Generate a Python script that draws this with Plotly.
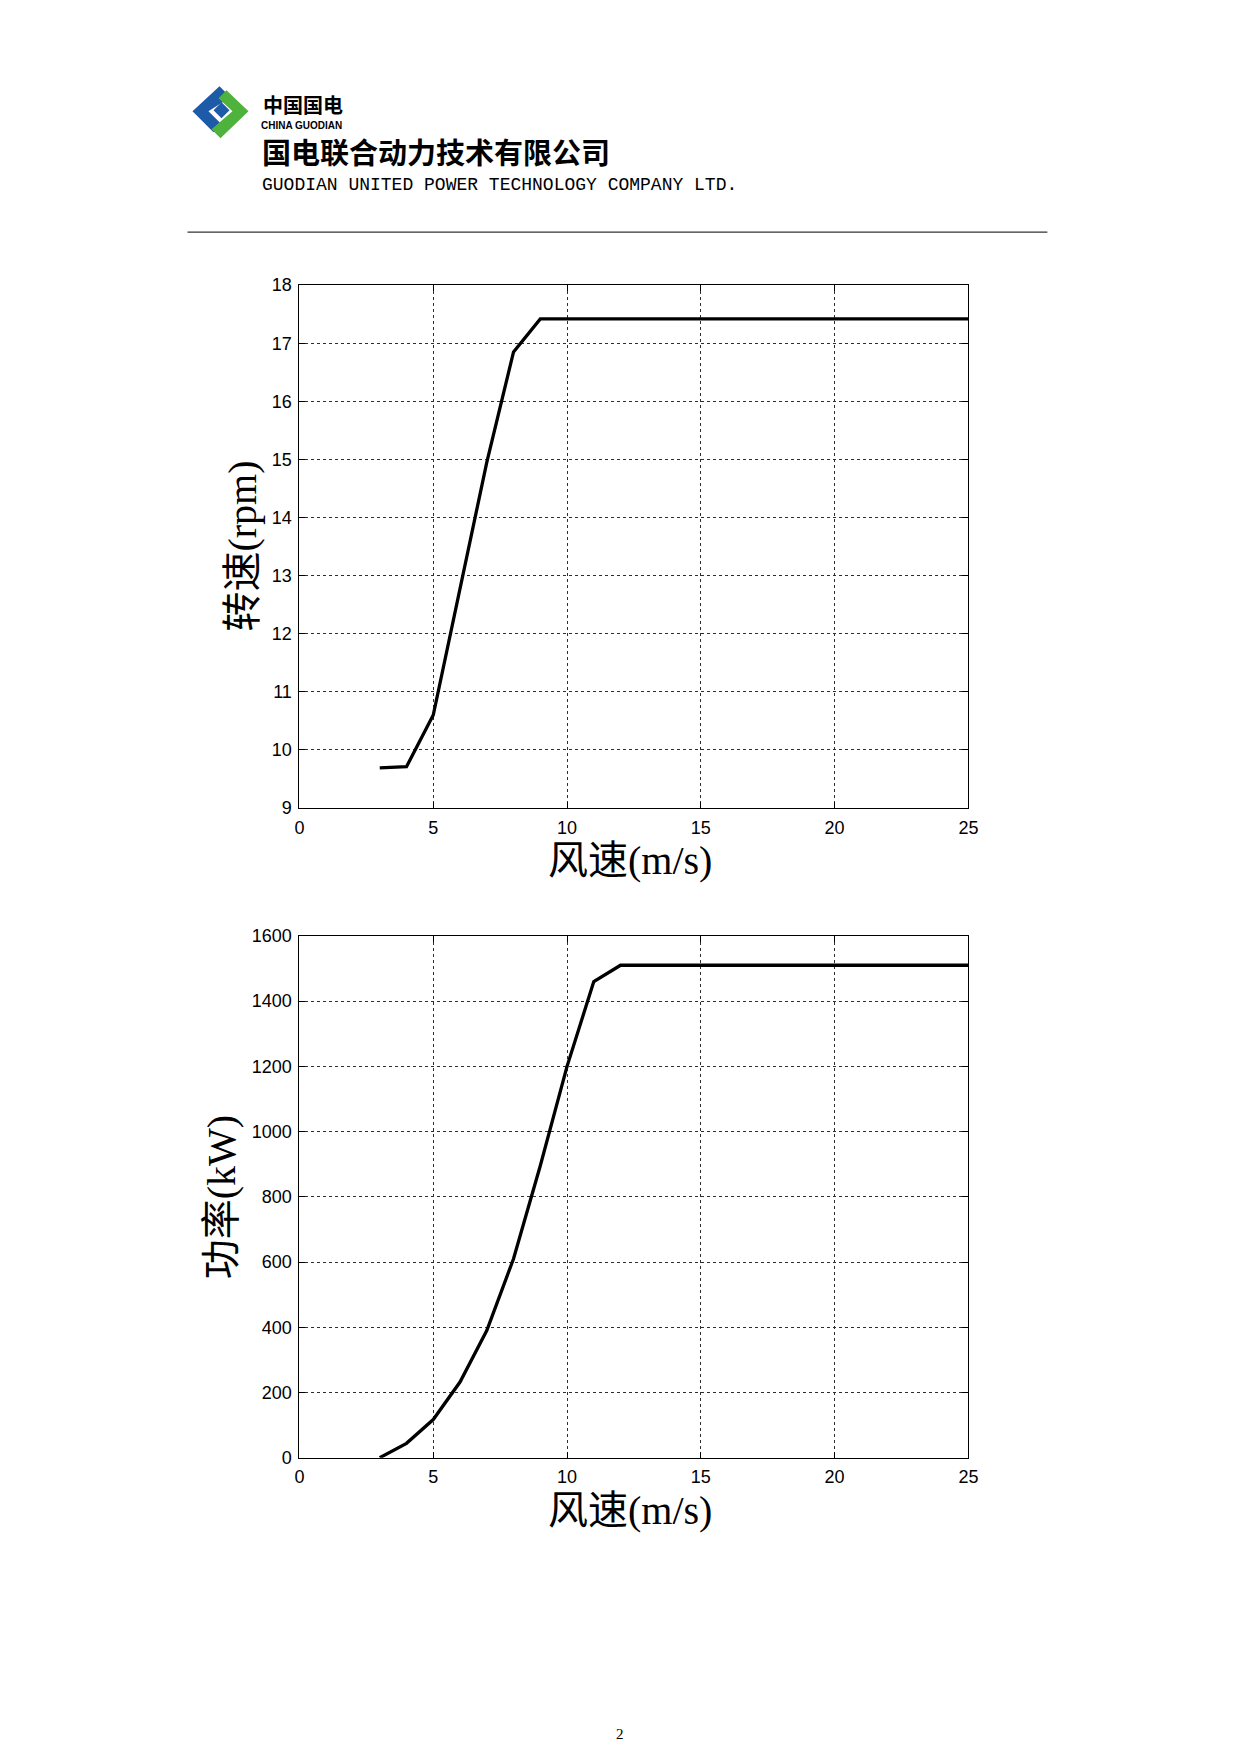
import plotly.graph_objects as go

# ---------------- data ----------------
wind_speed = [3, 4, 5, 6, 7, 8, 9, 10, 11, 12, 13, 14, 15, 16, 17, 18, 19, 20, 21, 22, 23, 24, 25]
rotor_speed_rpm = [9.69, 9.71, 10.60, 12.80, 14.95, 16.85, 17.42, 17.42, 17.42, 17.42, 17.42, 17.42,
                   17.42, 17.42, 17.42, 17.42, 17.42, 17.42, 17.42, 17.42, 17.42, 17.42, 17.42]
power_kw = [0, 44, 117, 232, 390, 610, 895, 1200, 1460, 1510, 1510, 1510,
            1510, 1510, 1510, 1510, 1510, 1510, 1510, 1510, 1510, 1510, 1510]

x_ticks = [0, 5, 10, 15, 20, 25]
rpm_ticks = [9, 10, 11, 12, 13, 14, 15, 16, 17, 18]
kw_ticks = [0, 200, 400, 600, 800, 1000, 1200, 1400, 1600]

x_title = "风速(m/s)"
rpm_title = "转速(rpm)"
kw_title = "功率(kW)"

company_cn_short = "中国国电"
company_en_short = "CHINA GUODIAN"
company_cn = "国电联合动力技术有限公司"
company_en = "GUODIAN UNITED POWER TECHNOLOGY COMPANY LTD."
page_no = "2"

# ---------------- page geometry ----------------
W, H = 1240, 1753
# measured page placement of the figure in the photograph
SX, SY, OX, OY = 0.988, 0.989, 5.5, 8.7


def px(x):
    return ((x - OX) / SX) / W


def py(y):
    return 1 - ((y - OY) / SY) / H


TICK_FONT = dict(family="Liberation Sans, Arial, sans-serif", size=18, color="black")
TITLE_FONT = dict(family="Liberation Serif, 'Noto Sans CJK SC', serif", size=40, color="black")

fig = go.Figure()

fig.add_trace(go.Scatter(x=wind_speed, y=rotor_speed_rpm, mode="lines",
                         line=dict(color="black", width=3.3), xaxis="x", yaxis="y",
                         showlegend=False, hoverinfo="skip"))
fig.add_trace(go.Scatter(x=wind_speed, y=power_kw, mode="lines",
                         line=dict(color="black", width=3.3), xaxis="x2", yaxis="y2",
                         showlegend=False, hoverinfo="skip"))

common_axis = dict(
    showline=True, linecolor="black", linewidth=1, mirror="ticks",
    ticks="inside", ticklen=6, tickcolor="black", tickwidth=1,
    showgrid=True, gridcolor="#2e2e2e", gridwidth=1, griddash="3px,3px",
    zeroline=False, tickfont=TICK_FONT, ticklabelstandoff=3,
)

x_dom = [px(300), px(969)]

fig.update_layout(
    width=W, height=H, autosize=False,
    margin=dict(l=0, r=0, t=0, b=0),
    paper_bgcolor="white", plot_bgcolor="white",
    xaxis=dict(domain=x_dom, range=[0, 25], tickvals=x_ticks, anchor="y", **common_axis),
    yaxis=dict(domain=[py(807), py(284)], range=[9, 18], tickvals=rpm_ticks, anchor="x", **common_axis),
    xaxis2=dict(domain=x_dom, range=[0, 25], tickvals=x_ticks, anchor="y2", **common_axis),
    yaxis2=dict(domain=[py(1457), py(935)], range=[0, 1600], tickvals=kw_ticks, anchor="x2", **common_axis),
)

ann = []
# axis titles
ann.append(dict(text=x_title, x=px(631), y=py(860), xref="paper", yref="paper",
                xanchor="center", yanchor="middle", showarrow=False, font=TITLE_FONT))
ann.append(dict(text=x_title, x=px(631), y=py(1510), xref="paper", yref="paper",
                xanchor="center", yanchor="middle", showarrow=False, font=TITLE_FONT))
ann.append(dict(text=rpm_title, x=px(243), y=py(545), xref="paper", yref="paper",
                xanchor="center", yanchor="middle", showarrow=False, font=TITLE_FONT, textangle=-90))
ann.append(dict(text=kw_title, x=px(222), y=py(1196), xref="paper", yref="paper",
                xanchor="center", yanchor="middle", showarrow=False, font=TITLE_FONT, textangle=-90))

# header texts
ann.append(dict(text="<b>%s</b>" % company_cn_short, x=px(262), y=py(103), xref="paper", yref="paper",
                xanchor="left", yanchor="middle", showarrow=False,
                font=dict(family="'Noto Sans CJK SC', sans-serif", size=20, color="black")))
ann.append(dict(text="<b>%s</b>" % company_en_short, x=px(260), y=py(124), xref="paper", yref="paper",
                xanchor="left", yanchor="middle", showarrow=False,
                font=dict(family="Liberation Sans Narrow, Liberation Sans, sans-serif", size=10, color="black")))
ann.append(dict(text="<b>%s</b>" % company_cn, x=px(261), y=py(150), xref="paper", yref="paper",
                xanchor="left", yanchor="middle", showarrow=False,
                font=dict(family="'Noto Sans CJK SC', sans-serif", size=29, color="black")))
ann.append(dict(text=company_en, x=px(261), y=py(184), xref="paper", yref="paper",
                xanchor="left", yanchor="middle", showarrow=False,
                font=dict(family="Liberation Mono, monospace", size=18, color="black")))
ann.append(dict(text=page_no, x=px(621), y=py(1733), xref="paper", yref="paper",
                xanchor="center", yanchor="middle", showarrow=False,
                font=dict(family="Liberation Serif, serif", size=15, color="black")))

fig.update_layout(annotations=ann)


def path_from(points):
    s = "M " + " L ".join("%f,%f" % (px(x), py(y)) for x, y in points) + " Z"
    return s


shapes = []
# header rule
shapes.append(dict(type="line", xref="paper", yref="paper", x0=px(188), x1=px(1048),
                   y0=py(231), y1=py(231), line=dict(color="#333333", width=1.2)))
# logo (stylised)
blue_pts = [(220, 85), (231, 96), (209, 110), (222, 123), (214, 131), (193, 110)]
green_pts = [(249, 110), (221, 137), (212, 128), (233, 110), (219, 97), (227, 89)]
blue_inner = [(222, 101), (230, 109), (222, 117), (214, 109)]
shapes.append(dict(type="path", xref="paper", yref="paper", path=path_from(blue_pts),
                   fillcolor="#1d5aa8", line=dict(width=0)))
shapes.append(dict(type="path", xref="paper", yref="paper", path=path_from(green_pts),
                   fillcolor="#4fb23c", line=dict(width=0)))
shapes.append(dict(type="path", xref="paper", yref="paper", path=path_from(blue_inner),
                   fillcolor="#1d5aa8", line=dict(width=0)))
fig.update_layout(shapes=shapes)

fig.write_html("out.html")
